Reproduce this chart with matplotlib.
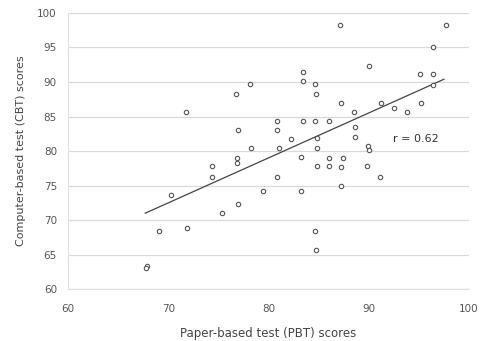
import numpy as np
import matplotlib
matplotlib.use("Agg")
import matplotlib.pyplot as plt

# PBT (x) and CBT (y) scores
pbt = [87.1, 97.7, 96.4, 90.0, 83.4, 83.4, 84.6, 84.7, 95.1, 96.4,
       96.4, 87.2, 91.2, 92.5, 93.8, 95.2, 88.5, 80.8, 80.8, 83.4,
       84.6, 86.0, 88.6, 88.6, 82.2, 84.8, 81.0, 84.8, 89.9, 90.0,
       83.2, 86.0, 87.4, 78.2, 76.8, 71.8, 77.0, 78.3, 76.9, 76.9,
       74.4, 74.4, 80.8, 70.3, 79.4, 77.0, 75.4, 69.1, 71.9, 67.9,
       67.8, 84.8, 86.0, 87.2, 89.8, 91.1, 83.2, 87.2, 84.6, 84.7]
cbt = [98.2, 98.2, 95.0, 92.3, 91.5, 90.2, 89.7, 88.3, 91.1, 91.1,
       89.6, 86.9, 87.0, 86.2, 85.6, 86.9, 85.7, 84.4, 83.0, 84.4,
       84.4, 84.4, 83.5, 82.1, 81.8, 81.9, 80.4, 80.4, 80.8, 80.2,
       79.1, 79.0, 79.0, 89.7, 88.2, 85.7, 83.0, 80.4, 79.0, 78.2,
       77.8, 76.3, 76.3, 73.7, 74.2, 72.4, 71.0, 68.4, 68.8, 63.4,
       63.0, 77.8, 77.8, 77.7, 77.8, 76.3, 74.2, 75.0, 68.4, 65.7]

# trend line as drawn in the chart (slope, intercept)
trend = (0.651, 26.93)
r_label = "r = 0.62"

fig = plt.figure(figsize=(4.86, 3.41), dpi=100)
ax = fig.add_axes([0.14, 0.152, 0.825, 0.81])

ax.scatter(pbt, cbt, s=10, facecolors="white", edgecolors="#555555",
           linewidths=0.8, zorder=3)

xs = np.array([67.7, 97.5])
ax.plot(xs, trend[0] * xs + trend[1], color="#444444", lw=0.9, zorder=2)

ax.text(92.4, 81.7, r_label, fontsize=8, color="#333333", va="center")

ax.set_xlim(60, 100)
ax.set_ylim(60, 100)
ax.set_xticks(range(60, 101, 10))
ax.set_yticks(range(60, 101, 5))
ax.tick_params(length=0, labelsize=7.5, colors="#555555")
ax.tick_params(axis="x", pad=11)
ax.tick_params(axis="y", pad=8)
ax.yaxis.grid(True, color="#d9d9d9", lw=0.9)
ax.set_axisbelow(True)
for s in ["top", "right"]:
    ax.spines[s].set_visible(False)
for s in ["left", "bottom"]:
    ax.spines[s].set_color("#e0e0e0")

ax.set_xlabel("Paper-based test (PBT) scores", fontsize=8.5, color="#444444", labelpad=9)
ax.set_ylabel("Computer-based test (CBT) scores", fontsize=8, color="#444444", labelpad=8)

fig.savefig("out.png", dpi=100)
